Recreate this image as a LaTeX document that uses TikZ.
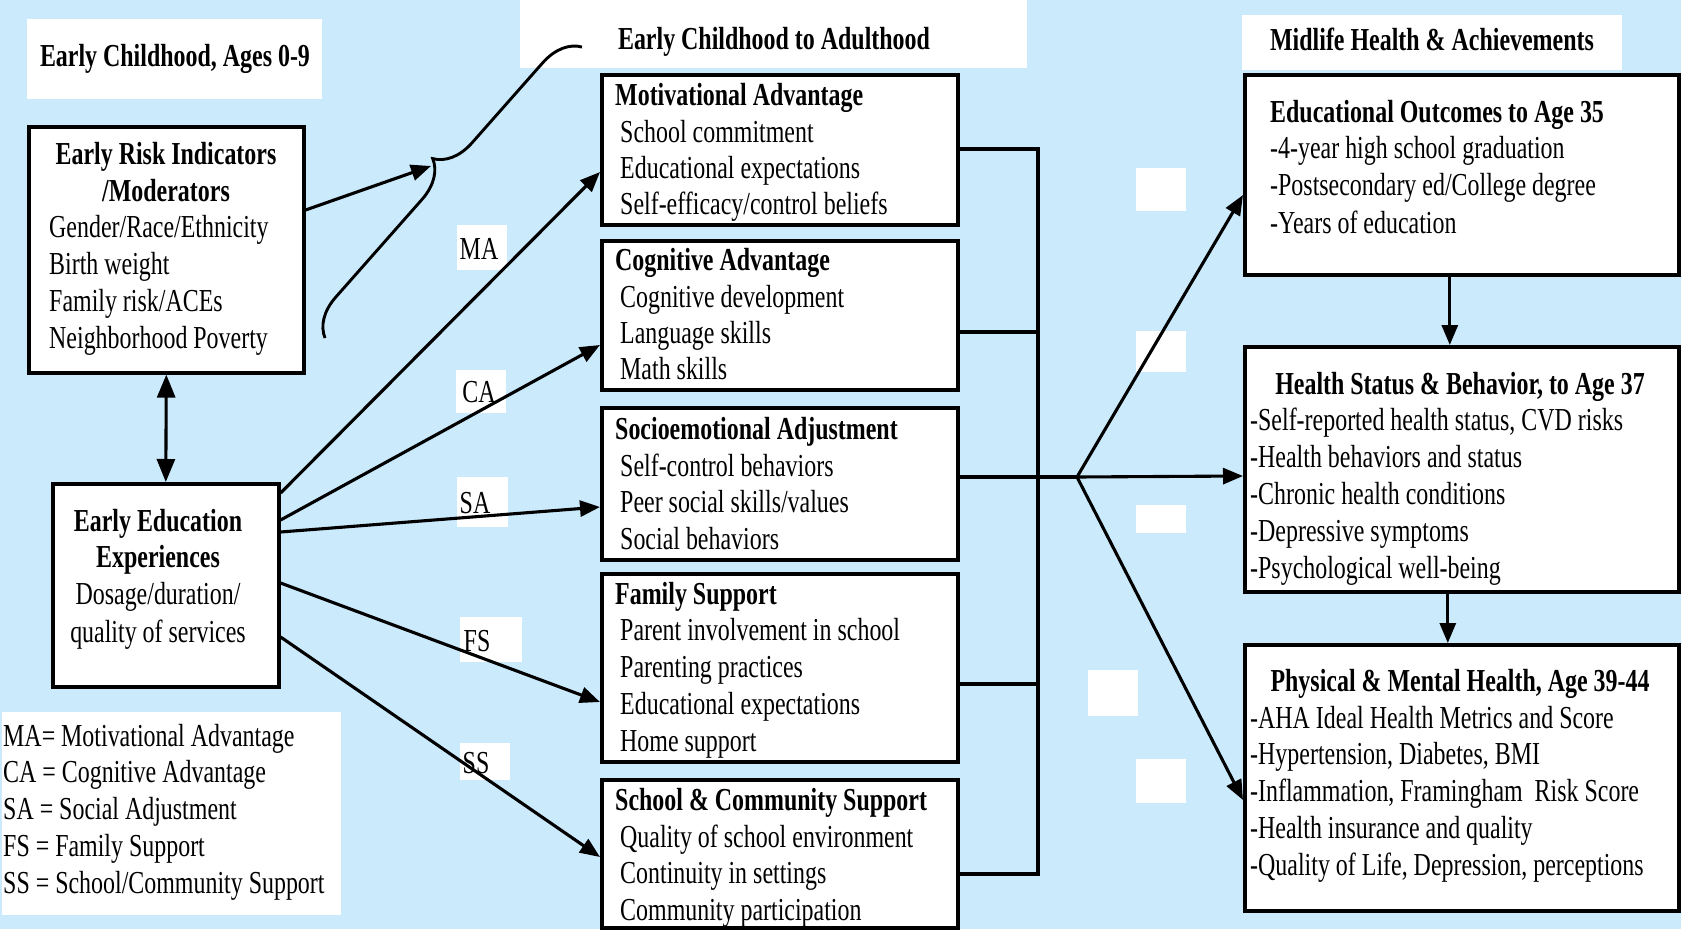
\documentclass[tikz,border=0pt]{standalone}
\usepackage{fontspec}
\setmainfont{Liberation Serif}[FakeStretch=0.748]
\usetikzlibrary{arrows.meta,calc,decorations.pathreplacing}
\definecolor{bgblue}{RGB}{203,234,252}
\newcommand\itemlines[6]{\foreach \t [count=\i] in {#6}{\node[txt,anchor=#4] (#1\i) at (#2,{#3+#5*(\i-1)}) {\t};}}
\begin{document}
\begin{tikzpicture}[x=1pt,y=-1pt,
  txt/.style={inner sep=0pt, font=\fontsize{32}{37}\selectfont},
  btxt/.style={inner sep=0pt, font=\fontsize{32}{37}\selectfont\bfseries},
  box/.style={draw, line width=3.6pt, fill=white, inner sep=0pt, anchor=north west},
  wbox/.style={fill=white, inner sep=0pt, anchor=north west},
  arr/.style={line width=3.1pt, -{Triangle[length=20pt,width=16pt]}},
  dblarr/.style={line width=3.1pt, {Triangle[length=23pt,width=18pt]}-{Triangle[length=23pt,width=18pt]}},
  link/.style={line width=3.1pt},
  bracestyle/.style={line width=2.9pt, decorate, decoration={brace, amplitude=38pt, aspect=0.53}}]
\fill[bgblue] (0,0) rectangle (1681,929);
\useasboundingbox (0,0) rectangle (1681,929);

% title boxes
\node[wbox, minimum width=295pt, minimum height=80pt] (t1) at (27,19) {};
\node[wbox, minimum width=507pt, minimum height=68pt] (t2) at (520,0) {};
\node[wbox, minimum width=380pt, minimum height=55pt] (t3) at (1242,15) {};
\node[wbox, minimum width=339pt, minimum height=203pt] (legend) at (2,712) {};
\node[btxt, anchor=base] (t1t) at (175,66) {Early Childhood, Ages 0-9};
\node[btxt, anchor=base] (t2t) at (774,49) {Early Childhood to Adulthood};
\node[btxt, anchor=base] (t3t) at (1432,50) {Midlife Health \& Achievements};

% main boxes
\node[box, minimum width=275pt, minimum height=246pt] (risk) at (27,125) {};
\node[box, minimum width=226pt, minimum height=203pt] (ed) at (51,482) {};
\node[box, minimum width=356pt, minimum height=150pt] (ma) at (600,73) {};
\node[box, minimum width=356pt, minimum height=149pt] (ca) at (600,239) {};
\node[box, minimum width=356pt, minimum height=152pt] (sa) at (600,406) {};
\node[box, minimum width=356pt, minimum height=188pt] (fs) at (600,572) {};
\node[box, minimum width=356pt, minimum height=148pt] (ss) at (600,778) {};
\node[box, minimum width=434pt, minimum height=200pt] (edu) at (1243,73) {};
\node[box, minimum width=434pt, minimum height=245pt] (health) at (1243,345) {};
\node[box, minimum width=434pt, minimum height=266pt] (phys) at (1243,643) {};

% empty white patches
\node[wbox, minimum width=50pt, minimum height=43pt] (w1) at (1136,168) {};
\node[wbox, minimum width=50pt, minimum height=41pt] (w2) at (1136,331) {};
\node[wbox, minimum width=50pt, minimum height=28pt] (w3) at (1136,505) {};
\node[wbox, minimum width=50pt, minimum height=46pt] (w4) at (1088,670) {};
\node[wbox, minimum width=50pt, minimum height=44pt] (w5) at (1136,759) {};

% path labels
\node[wbox, minimum width=50pt, minimum height=45pt] (lMA) at (457,225) {};
\node[wbox, minimum width=50pt, minimum height=43pt] (lCA) at (456,370) {};
\node[wbox, minimum width=51pt, minimum height=50pt] (lSA) at (457,477) {};
\node[wbox, minimum width=62pt, minimum height=45pt] (lFS) at (460,617) {};
\node[wbox, minimum width=50pt, minimum height=37pt] (lSS) at (460,743) {};
\node[txt, anchor=base] (lMAt) at (479,259) {MA};
\node[txt, anchor=base] (lCAt) at (479,402) {CA};
\node[txt, anchor=base] (lSAt) at (475,513) {SA};
\node[txt, anchor=base] (lFSt) at (477,651) {FS};
\node[txt, anchor=base] (lSSt) at (476,773) {SS};

% texts
\node[btxt, anchor=base] (riskh1) at (166,164) {Early Risk Indicators};
\node[btxt, anchor=base] (riskh2) at (166,201) {/Moderators};
\itemlines{riskl}{49}{237}{base west}{37.3}{Gender/Race/Ethnicity, Birth weight, Family risk/ACEs, Neighborhood Poverty}
\node[btxt, anchor=base] (edh1) at (158,531) {Early Education};
\node[btxt, anchor=base] (edh2) at (158,567) {Experiences};
\itemlines{edl}{158}{604}{base}{38}{Dosage/duration/, quality of services}
\itemlines{leg}{3}{746}{base west}{36.8}{MA= Motivational Advantage, CA = Cognitive Advantage, SA = Social Adjustment, FS = Family Support, SS = School/Community Support}

\node[btxt, anchor=base west] (mah) at (615,105) {Motivational Advantage};
\itemlines{mal}{620}{142}{base west}{36}{School commitment, Educational expectations, Self-efficacy/control beliefs}
\node[btxt, anchor=base west] (cah) at (615,270) {Cognitive Advantage};
\itemlines{cal}{620}{307}{base west}{36}{Cognitive development, Language skills, Math skills}
\node[btxt, anchor=base west] (sah) at (615,439) {Socioemotional Adjustment};
\itemlines{sal}{620}{476}{base west}{36.5}{Self-control behaviors, Peer social skills/values, Social behaviors}
\node[btxt, anchor=base west] (fsh) at (615,604) {Family Support};
\itemlines{fsl}{620}{640}{base west}{37}{Parent involvement in school, Parenting practices, Educational expectations, Home support}
\node[btxt, anchor=base west] (ssh) at (615,810) {School \& Community Support};
\itemlines{ssl}{620}{847}{base west}{36.5}{Quality of school environment, Continuity in settings, Community participation}

\node[btxt, anchor=base west] (eduh) at (1270,122) {Educational Outcomes to Age 35};
\itemlines{edul}{1270}{158}{base west}{37.5}{-4-year high school graduation, -Postsecondary ed/College degree, -Years of education}
\node[btxt, anchor=base] (healthh) at (1460,394) {Health Status \& Behavior, to Age 37};
\itemlines{healthl}{1250}{430}{base west}{37}{{-Self-reported health status, CVD risks}, -Health behaviors and status, -Chronic health conditions, -Depressive symptoms, -Psychological well-being}
\node[btxt, anchor=base] (physh) at (1460,691) {Physical \& Mental Health, Age 39-44};
\itemlines{physl}{1250}{728}{base west}{36.8}{-AHA Ideal Health Metrics and Score, {-Hypertension, Diabetes, BMI}, {-Inflammation, Framingham\ \ Risk Score}, -Health insurance and quality, {-Quality of Life, Depression, perceptions}}

% brace and coordinates
\coordinate (braceB) at (325,338);
\coordinate (braceT) at (582,47);
\coordinate (cusp) at (431,166);
\draw[bracestyle] (braceB) -- (braceT);
\draw[arr] ($(risk.north east)+(0,85)$) -- (cusp);
\draw[dblarr] (risk.south) -- (ed.north);

% early education arrows
\draw[arr] ($(ed.north east)+(0,11)$) -- ($(ma.north west)+(0,99)$);
\draw[arr] ($(ed.north east)+(0,38)$) -- ($(ca.north west)+(0,106)$);
\draw[arr] ($(ed.north east)+(0,50)$) -- ($(sa.north west)+(0,101)$);
\draw[arr] ($(ed.north east)+(0,101)$) -- ($(fs.north west)+(0,130)$);
\draw[arr] ($(ed.north east)+(0,155)$) -- ($(ss.north west)+(0,79)$);

% bus
\coordinate (busT) at (1038,149);
\coordinate (busB) at (1038,874);
\coordinate (junc) at (1077,477);
\draw[link] ($(ma.north east)+(0,76)$) -- (busT) -- (busB) -- ($(ss.north east)+(0,96)$);
\draw[link] ($(ca.north east)+(0,93)$) coordinate (caO) -- (caO -| busT);
\draw[link] ($(fs.north east)+(0,112)$) coordinate (fsO) -- (fsO -| busT);
\draw[link] ($(sa.north east)+(0,71)$) -- (junc);

% outcomes
\draw[arr] (junc) -- ($(edu.north west)+(0,122)$);
\draw[arr] (junc) -- ($(health.north west)+(0,131)$);
\draw[arr] (junc) -- ($(phys.north west)+(0,157)$);
\draw[arr] ($(edu.south)+(-12,0)$) -- ($(health.north)+(-12,0)$);
\draw[arr] ($(health.south)+(-14,0)$) -- ($(phys.north)+(-14,0)$);
\end{tikzpicture}
\end{document}
